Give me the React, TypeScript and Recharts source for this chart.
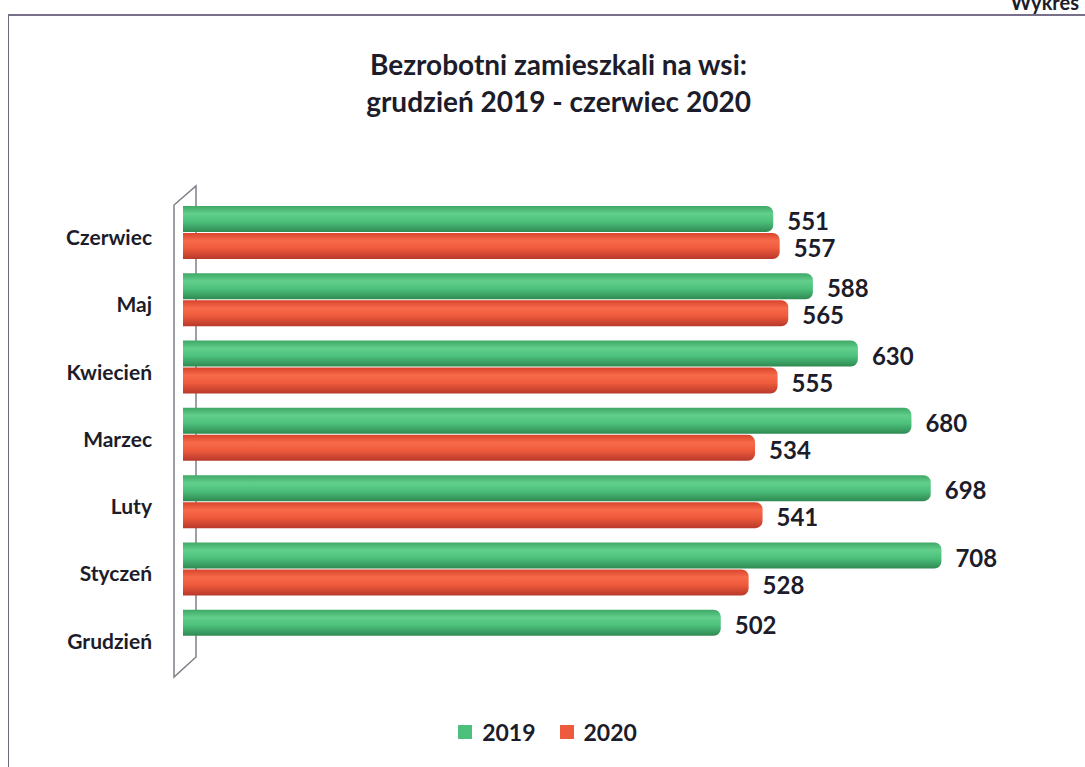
import React from 'react';
import { BarChart, Bar, XAxis, YAxis, LabelList } from 'recharts';

const months = ['Czerwiec', 'Maj', 'Kwiecień', 'Marzec', 'Luty', 'Styczeń', 'Grudzień'];
const values2019 = [551, 588, 630, 680, 698, 708, 502];
const values2020: (number | null)[] = [557, 565, 555, 534, 541, 528, null];
const seriesNames = ['2019', '2020'];
const titleLines = ['Bezrobotni zamieszkali na wsi:', 'grudzień 2019 - czerwiec 2020'];

const data = months.map((m, i) => ({ month: m, y2019: values2019[i], y2020: values2020[i] }));

const FONT = 'Lato, "Open Sans", sans-serif';
const W = 1085;
const H = 767;
const M = { top: 199, right: 45, bottom: 97, left: 0 };
const YW = 183;

const ValueLabel = (props: any) => {
  const { x, y, width, height, value } = props;
  if (value == null) return null;
  return (
    <text x={x + width + 14} y={y + height / 2 + 5} dominantBaseline="middle" fontFamily={FONT} fontWeight={700} fontSize={24} fill="#1c1c2a">
      {value}
    </text>
  );
};

const CategoryTick = (props: any) => {
  const { x, y, payload } = props;
  return (
    <text x={x} y={y + 7} textAnchor="end" dominantBaseline="middle" fontFamily={FONT} fontWeight={700} fontSize={21} fill="#1c1c2a">
      {payload.value}
    </text>
  );
};

const LegendBox = () => (
  <div style={{ position: 'absolute', left: 0, top: 718, width: W, display: 'flex', justifyContent: 'center', alignItems: 'center', fontFamily: FONT, fontWeight: 700, fontSize: 23, color: '#1c1c2a', paddingLeft: 10, boxSizing: 'border-box' }}>
    <span style={{ width: 14, height: 14, background: '#4cc07c', display: 'inline-block', marginRight: 10 }} />
    <span style={{ marginRight: 24 }}>{seriesNames[0]}</span>
    <span style={{ width: 14, height: 14, background: '#ee5a3c', display: 'inline-block', marginRight: 10 }} />
    <span>{seriesNames[1]}</span>
  </div>
);

export default function App() {
  return (
    <div style={{ position: 'absolute', left: 0, top: 0, width: W, height: H, background: '#fff', overflow: 'hidden' }}>
      <div style={{ position: 'absolute', left: 8, top: 14, width: W, height: H, borderLeft: '1.5px solid #6a6a78', borderTop: '2px solid #7a6f8a' }} />
      <div style={{ position: 'absolute', right: 6, top: -10, fontFamily: FONT, fontWeight: 700, fontSize: 20, color: '#1c1c2a' }}>Wykres</div>
      <div style={{ position: 'absolute', left: 0, width: W, top: 46, textAlign: 'center', fontFamily: FONT, fontWeight: 700, fontSize: 28, lineHeight: '37px', color: '#1c1c2a', paddingLeft: 32, boxSizing: 'border-box' }}>
        <div>{titleLines[0]}</div>
        <div>{titleLines[1]}</div>
      </div>
      <svg style={{ position: 'absolute', left: 0, top: 0 }} width={W} height={H}>
        <polygon points="174,205 196,186 196,657 174,677" fill="none" stroke="#7c8088" strokeWidth={1.5} />
      </svg>
      <div style={{ position: 'absolute', left: 0, top: 0 }}>
        <BarChart width={W} height={H} data={data} layout="vertical" margin={M} barSize={26} barGap={1} barCategoryGap={8}>
          <defs>
            <linearGradient id="g2019" x1="0" y1="0" x2="0" y2="1">
              <stop offset="0%" stopColor="#3fa866" />
              <stop offset="30%" stopColor="#62cf8c" />
              <stop offset="60%" stopColor="#4cc07c" />
              <stop offset="100%" stopColor="#2f8a52" />
            </linearGradient>
            <linearGradient id="g2020" x1="0" y1="0" x2="0" y2="1">
              <stop offset="0%" stopColor="#d8442c" />
              <stop offset="30%" stopColor="#f76a4a" />
              <stop offset="60%" stopColor="#ee5a3c" />
              <stop offset="100%" stopColor="#b8382a" />
            </linearGradient>
          </defs>
          <XAxis type="number" domain={[0, 800]} hide />
          <YAxis
            type="category"
            dataKey="month"
            width={YW}
            axisLine={false}
            tickLine={false}
            tickSize={0}
            tickMargin={31}
            tick={<CategoryTick />}
          />
          <Bar dataKey="y2019" name={seriesNames[0]} fill="url(#g2019)" radius={[0, 7, 7, 0]} isAnimationActive={false}>
            <LabelList dataKey="y2019" content={<ValueLabel />} />
          </Bar>
          <Bar dataKey="y2020" name={seriesNames[1]} fill="url(#g2020)" radius={[0, 7, 7, 0]} isAnimationActive={false}>
            <LabelList dataKey="y2020" content={<ValueLabel />} />
          </Bar>
        </BarChart>
      </div>
      <LegendBox />
    </div>
  );
}
